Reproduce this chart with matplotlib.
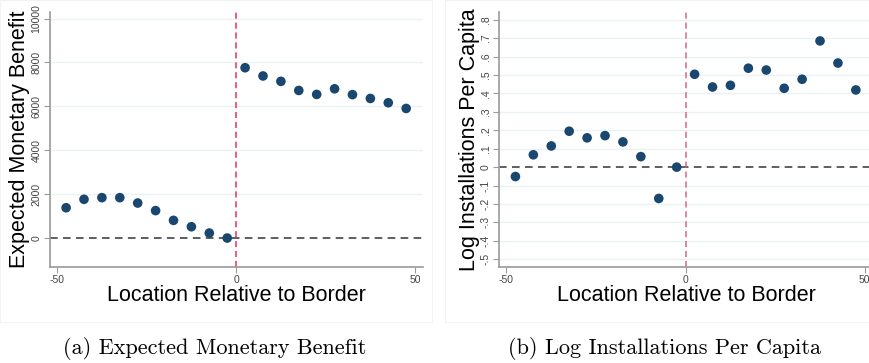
import numpy as np
import matplotlib.pyplot as plt
from matplotlib.patches import Rectangle

plt.rcParams['font.family'] = ['Liberation Sans', 'DejaVu Sans']

# bin centres (location relative to border)
loc = [-47.5, -42.5, -37.5, -32.5, -27.5, -22.5, -17.5, -12.5, -7.5, -2.5,
       2.5, 7.5, 12.5, 17.5, 22.5, 27.5, 32.5, 37.5, 42.5, 47.5]

benefit = [1380, 1765, 1840, 1840, 1595, 1250, 805, 515, 228, 0,
           7760, 7385, 7140, 6725, 6545, 6800, 6535, 6360, 6165, 5905]

log_inst = [-0.051, 0.067, 0.115, 0.195, 0.159, 0.171, 0.137, 0.057, -0.170, 0.0,
            0.504, 0.435, 0.444, 0.537, 0.527, 0.428, 0.477, 0.685, 0.565, 0.419]

ticks_a = [0, 2000, 4000, 6000, 8000, 10000]
labels_a = ['0', '2000', '4000', '6000', '8000', '10000']
ticks_b = [-0.5, -0.4, -0.3, -0.2, -0.1, 0, 0.1, 0.2, 0.3, 0.4, 0.5, 0.6, 0.7, 0.8]
labels_b = ['-.5', '-.4', '-.3', '-.2', '-.1', '0', '.1', '.2', '.3', '.4', '.5', '.6', '.7', '.8']

navy = '#1a476f'
grid_c = '#eaf2f3'
spine_c = '#9a9a9a'

fig = plt.figure(figsize=(8.7, 3.63), dpi=100)

# faint graph-region borders
fig.add_artist(Rectangle((0.0, 1 - 322 / 363), 432 / 870, 322 / 363, transform=fig.transFigure,
                         fill=False, edgecolor='#f3f3f3', lw=0.8))
fig.add_artist(Rectangle((445 / 870, 1 - 322 / 363), 430 / 870, 322 / 363, transform=fig.transFigure,
                         fill=False, edgecolor='#f3f3f3', lw=0.8))

ax1 = fig.add_axes([50 / 870, 1 - 267 / 363, 373 / 870, 255 / 363])
ax2 = fig.add_axes([499.3 / 870, 1 - 267 / 363, 373.4 / 870, 255 / 363])


def style(ax, ticks, labels, ylim, vcol, ylabel):
    ax.set_xlim(-52, 52.2)
    ax.set_ylim(*ylim)
    for t in ticks:
        if t != 0:
            ax.axhline(t, color=grid_c, lw=1.0, zorder=0)
    ax.axhline(0, color='#333333', lw=1.1, ls=(0, (5, 3.5)), zorder=1)
    ax.axvline(0, color=vcol, lw=1.1, ls=(0, (4, 2.5)), zorder=1)
    ax.set_yticks(ticks)
    ax.set_yticklabels(labels, rotation=90, va='center')
    ax.set_xticks([-50, 0, 50])
    ax.set_xticklabels(['-50', '0', '50'])
    ax.tick_params(axis='both', labelsize=7.5, colors=spine_c, labelcolor='#444444',
                   length=4, width=0.8, pad=2)
    for s in ['top', 'right']:
        ax.spines[s].set_visible(False)
    for s in ['left', 'bottom']:
        ax.spines[s].set_color(spine_c)
        ax.spines[s].set_linewidth(1.2)
    ax.set_xlabel('Location Relative to Border', fontsize=15.5, labelpad=0)
    ax.set_ylabel(ylabel, fontsize=15.5, labelpad=1)


style(ax1, ticks_a, labels_a, (-1320, 10300), '#e8305a', 'Expected Monetary Benefit')
style(ax2, ticks_b, labels_b, (-0.542, 0.842), '#d8648c', 'Log Installations Per Capita')

ax1.scatter(loc, benefit, s=48, color=navy, zorder=3, edgecolors='none')
ax2.scatter(loc, log_inst, s=48, color=navy, zorder=3, edgecolors='none')

fig.text(215 / 870, 1 - 349 / 363, '(a) Expected Monetary Benefit', ha='center', va='center',
         fontsize=16, family='cmr10')
fig.text(665 / 870, 1 - 349 / 363, '(b) Log Installations Per Capita', ha='center', va='center',
         fontsize=16, family='cmr10')

fig.savefig('out.png', dpi=100)
